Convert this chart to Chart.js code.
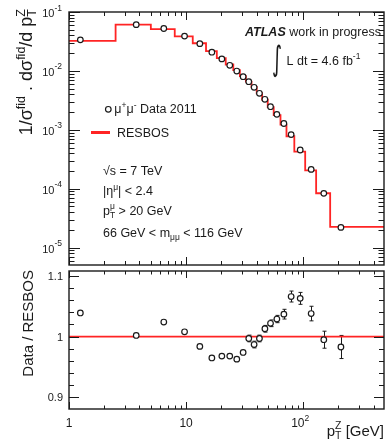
<!DOCTYPE html>
<html lang="en">
<head>
<meta charset="UTF-8" />
<title>Z pT - Data 2011 vs RESBOS</title>
<script src="https://cdn.jsdelivr.net/npm/chart.js"></script>
<style>
  body { margin: 0; background: #fff; }
  .painel { position: relative; width: 390px; height: 441px; background: #fff; }
  .painel canvas { position: absolute; left: 0; top: 0; }
</style>
</head>
<body>
<div class="painel">
  <canvas id="espectro" width="390" height="441"></canvas>
  <canvas id="razao" width="390" height="441"></canvas>
</div>
<script>
// bin centres and edges (GeV)
const ptCentres = [1.25, 3.75, 6.45, 9.7, 13.1, 16.6, 20.2, 23.6, 27.1, 30.7, 34.3, 38.1, 42.3, 47.1, 52.6, 59.6, 68.4, 78.9, 94.3, 117, 150, 210];
const binEdges = [1, 2.5, 5, 8, 11.4, 14.8, 18.3, 21.8, 25.3, 28.8, 32.4, 36.2, 40.1, 44.6, 49.8, 56, 64, 72, 84, 104, 129, 170, 800];

// 1/sigma dsigma/dpT
const dataXsec = [0.0337, 0.061, 0.0525, 0.039, 0.029, 0.0208, 0.016, 0.01245, 0.00995, 0.00797, 0.00656, 0.00527, 0.00417, 0.0033, 0.00247, 0.00183, 0.00128, 0.00083, 0.000455, 0.000213, 0.0000835, 0.0000221];
const resbosXsec = [0.0324, 0.0609, 0.0513, 0.0387, 0.0295, 0.0216, 0.0165, 0.01286, 0.01033, 0.00818, 0.00658, 0.00534, 0.00418, 0.00326, 0.00242, 0.00178, 0.00123, 0.000779, 0.000428, 0.000205, 0.0000839, 0.0000225];

// Data / RESBOS
const ratio = [1.039, 1.002, 1.024, 1.008, 0.984, 0.965, 0.968, 0.968, 0.963, 0.974, 0.997, 0.987, 0.997, 1.013, 1.022, 1.029, 1.037, 1.066, 1.063, 1.038, 0.995, 0.983];
const ratioErr = [0.003, 0.002, 0.002, 0.002, 0.002, 0.002, 0.003, 0.003, 0.003, 0.004, 0.0055, 0.0055, 0.0055, 0.0055, 0.0055, 0.006, 0.008, 0.009, 0.0098, 0.012, 0.014, 0.019];

const xRange = [1, 490];
const yRangeTop = [5.08e-6, 0.1];
const yRangeRatio = [0.881, 1.108];

const topLabels = [-1, -2, -3, -4, -5];
const ratioLabels = [0.9, 1, 1.1];

const INK = '#1a1a1a';
const RED = '#ff2424';
const FONT = '"Liberation Sans", Arial, Helvetica, sans-serif';

function setFont(ctx, size, style) {
  ctx.font = (style || '') + ' ' + size + 'px ' + FONT;
}

// text made of pieces (super/subscripts); hold = stack with the next piece
function runWidth(ctx, parts) {
  let w = 0, held = 0;
  parts.forEach(p => {
    setFont(ctx, p.s, p.f);
    const pw = ctx.measureText(p.t).width;
    if (p.hold) { held = Math.max(held, pw); return; }
    w += Math.max(pw, held); held = 0;
  });
  return w + held;
}

function drawRun(ctx, x, y, parts, align) {
  const total = runWidth(ctx, parts);
  let cx = align === 'right' ? x - total : align === 'center' ? x - total / 2 : x;
  let held = 0;
  ctx.textAlign = 'left';
  ctx.textBaseline = 'alphabetic';
  ctx.fillStyle = INK;
  parts.forEach(p => {
    setFont(ctx, p.s, p.f);
    const pw = ctx.measureText(p.t).width;
    ctx.fillText(p.t, cx, y + (p.dy || 0));
    if (p.hold) { held = Math.max(held, pw); return; }
    cx += Math.max(pw, held); held = 0;
  });
}

function logTicks(min, max) {
  const out = [];
  for (let e = Math.floor(Math.log10(min)); e <= Math.ceil(Math.log10(max)); e++) {
    for (let m = 1; m <= 9; m++) {
      const v = m * Math.pow(10, e);
      if (v >= min * 0.9999 && v <= max * 1.0001) out.push({ v: v, major: m === 1 });
    }
  }
  return out;
}

function linTicks(min, max) {
  const out = [];
  for (let k = Math.ceil(min / 0.02); k <= Math.floor(max / 0.02); k++) {
    out.push({ v: k * 0.02, major: k % 5 === 0 });
  }
  return out;
}

function seg(ctx, x1, y1, x2, y2) {
  ctx.beginPath();
  ctx.moveTo(x1, y1);
  ctx.lineTo(x2, y2);
  ctx.stroke();
}

function drawFrame(chart, xt, yt, len) {
  const { ctx, chartArea: a, scales } = chart;
  ctx.save();
  ctx.strokeStyle = INK;
  ctx.lineWidth = 1;
  xt.forEach(t => {
    const p = Math.round(scales.x.getPixelForValue(t.v)) + 0.5;
    const l = t.major ? len.xMaj : len.xMin;
    seg(ctx, p, a.bottom, p, a.bottom - l);
    seg(ctx, p, a.top, p, a.top + l);
  });
  yt.forEach(t => {
    const p = Math.round(scales.y.getPixelForValue(t.v)) + 0.5;
    const l = t.major ? len.yMaj : len.yMin;
    seg(ctx, a.left, p, a.left + l, p);
    seg(ctx, a.right, p, a.right - l, p);
  });
  ctx.lineWidth = 1.4;
  ctx.strokeRect(a.left, a.top, a.right - a.left, a.bottom - a.top);
  ctx.restore();
}

const topDecor = {
  id: 'topDecor',
  afterDraw(chart) {
    const { ctx, scales } = chart;
    drawFrame(chart, logTicks(xRange[0], xRange[1]), logTicks(yRangeTop[0], yRangeTop[1]),
      { xMaj: 8, xMin: 4, yMaj: 11, yMin: 5.5 });
    ctx.save();
    // y tick labels
    topLabels.forEach(e => {
      const p = scales.y.getPixelForValue(Math.pow(10, e));
      drawRun(ctx, 62, p + 5, [{ t: '10', s: 11 }, { t: '-' + (-e), s: 8.5, dy: -6.5 }], 'right');
    });
    // y title
    ctx.save();
    ctx.translate(32, 9);
    ctx.rotate(-Math.PI / 2);
    drawRun(ctx, 0, 0, [
      { t: '1/σ', s: 18 }, { t: 'fid', s: 12.5, dy: -7.5 },
      { t: ' . dσ', s: 18 }, { t: 'fid', s: 12.5, dy: -7.5 },
      { t: '/d p', s: 18 }, { t: 'Z', s: 12.5, dy: -7.5, hold: true }, { t: 'T', s: 12.5, dy: 4 }
    ], 'right');
    ctx.restore();

    // ATLAS label
    drawRun(ctx, 245, 36, [{ t: 'ATLAS', s: 12.5, f: 'italic bold' }, { t: ' work in progress', s: 12.5 }], 'left');
    ctx.save();
    ctx.fillStyle = INK;
    ctx.font = '26px "DejaVu Sans", sans-serif';
    ctx.translate(272, 70);
    ctx.scale(0.75, 1.3);
    ctx.fillText('∫', 0, 0);
    ctx.restore();
    drawRun(ctx, 286.5, 65, [{ t: 'L dt = 4.6 fb', s: 12.5 }, { t: '-1', s: 8.5, dy: -6 }], 'left');

    // legend
    ctx.fillStyle = '#fff';
    ctx.strokeStyle = INK;
    ctx.lineWidth = 1.2;
    ctx.beginPath();
    ctx.arc(108.3, 109.3, 2.8, 0, Math.PI * 2);
    ctx.fill();
    ctx.stroke();
    drawRun(ctx, 114.3, 113, [
      { t: 'μ', s: 12.5 }, { t: '+', s: 8.5, dy: -5 }, { t: 'μ', s: 12.5 }, { t: '-', s: 8.5, dy: -5 },
      { t: ' Data 2011', s: 12.5 }
    ], 'left');
    ctx.strokeStyle = RED;
    ctx.lineWidth = 3;
    seg(ctx, 91, 132.5, 110, 132.5);
    drawRun(ctx, 117, 137, [{ t: 'RESBOS', s: 12.5 }], 'left');

    // selection
    drawRun(ctx, 103, 175, [{ t: '√s = 7 TeV', s: 12.5 }], 'left');
    drawRun(ctx, 103, 194.5, [{ t: '|η', s: 12.5 }, { t: 'μ', s: 8.5, dy: -5 }, { t: '| < 2.4', s: 12.5 }], 'left');
    drawRun(ctx, 103, 215, [{ t: 'p', s: 12.5 }, { t: 'μ', s: 8.5, dy: -6, hold: true }, { t: 'T', s: 8.5, dy: 3 },
      { t: ' > 20 GeV', s: 12.5 }], 'left');
    drawRun(ctx, 103, 236.5, [{ t: '66 GeV < m', s: 12.5 }, { t: 'μμ', s: 8.5, dy: 3 }, { t: ' < 116 GeV', s: 12.5 }], 'left');
    ctx.restore();
  }
};

const ratioDecor = {
  id: 'ratioDecor',
  beforeDatasetsDraw(chart) {
    const { ctx, scales } = chart;
    ctx.save();
    ctx.strokeStyle = INK;
    ctx.lineWidth = 1;
    ptCentres.forEach((pt, i) => {
      const px = Math.round(scales.x.getPixelForValue(pt)) + 0.5;
      const hi = scales.y.getPixelForValue(ratio[i] + ratioErr[i]);
      const lo = scales.y.getPixelForValue(ratio[i] - ratioErr[i]);
      if (lo - hi < 6) return;
      seg(ctx, px, hi, px, lo);
      seg(ctx, px - 2, hi, px + 2, hi);
      seg(ctx, px - 2, lo, px + 2, lo);
    });
    ctx.restore();
  },
  afterDraw(chart) {
    const { ctx, scales } = chart;
    drawFrame(chart, logTicks(xRange[0], xRange[1]), linTicks(yRangeRatio[0], yRangeRatio[1]),
      { xMaj: 7, xMin: 3.5, yMaj: 10, yMin: 5 });
    ctx.save();
    ratioLabels.forEach(v => {
      const p = scales.y.getPixelForValue(v);
      drawRun(ctx, 63, p + 4, [{ t: String(v), s: 11 }], 'right');
    });
    drawRun(ctx, scales.x.getPixelForValue(1), 427, [{ t: '1', s: 12 }], 'center');
    drawRun(ctx, scales.x.getPixelForValue(10), 427, [{ t: '10', s: 12 }], 'center');
    drawRun(ctx, scales.x.getPixelForValue(100) - 3, 427, [{ t: '10', s: 12 }, { t: '2', s: 8.5, dy: -6 }], 'center');
    drawRun(ctx, 384, 436, [{ t: 'p', s: 15 }, { t: 'Z', s: 10.5, dy: -7, hold: true }, { t: 'T', s: 10.5, dy: 3 },
      { t: ' [GeV]', s: 15 }], 'right');
    ctx.save();
    ctx.translate(33, 270);
    ctx.rotate(-Math.PI / 2);
    drawRun(ctx, 0, 0, [{ t: 'Data / RESBOS', s: 15 }], 'right');
    ctx.restore();
    ctx.restore();
  }
};

const markerStyle = {
  showLine: false,
  pointStyle: 'circle',
  pointRadius: 2.8,
  pointBorderWidth: 1.2,
  pointBorderColor: INK,
  pointBackgroundColor: '#fff',
  order: 0
};

const commonOptions = (padding, yScale) => ({
  responsive: false,
  animation: false,
  events: [],
  layout: { padding: padding },
  plugins: { legend: { display: false }, tooltip: { enabled: false } },
  scales: {
    x: { type: 'logarithmic', min: xRange[0], max: xRange[1], display: false },
    y: yScale
  }
});

new Chart(document.getElementById('espectro'), {
  type: 'line',
  data: {
    datasets: [
      Object.assign({
        label: 'Data 2011',
        data: ptCentres.map((x, i) => ({ x: x, y: dataXsec[i] }))
      }, markerStyle),
      {
        label: 'RESBOS',
        data: binEdges.map((x, i) => ({ x: x, y: resbosXsec[Math.min(i, resbosXsec.length - 1)] })),
        stepped: true,
        borderColor: RED,
        borderWidth: 1.8,
        pointRadius: 0,
        order: 1
      }
    ]
  },
  options: commonOptions({ top: 12, left: 69, right: 6, bottom: 176 },
    { type: 'logarithmic', min: yRangeTop[0], max: yRangeTop[1], display: false }),
  plugins: [topDecor]
});

new Chart(document.getElementById('razao'), {
  type: 'line',
  data: {
    datasets: [
      Object.assign({
        label: 'Data / RESBOS',
        data: ptCentres.map((x, i) => ({ x: x, y: ratio[i] }))
      }, markerStyle),
      {
        label: 'RESBOS',
        data: [{ x: binEdges[0], y: 1 }, { x: binEdges[binEdges.length - 1], y: 1 }],
        borderColor: RED,
        borderWidth: 1.6,
        pointRadius: 0,
        order: 1
      }
    ]
  },
  options: commonOptions({ top: 271, left: 69, right: 6, bottom: 32 },
    { type: 'linear', min: yRangeRatio[0], max: yRangeRatio[1], display: false }),
  plugins: [ratioDecor]
});
</script>
</body>
</html>
